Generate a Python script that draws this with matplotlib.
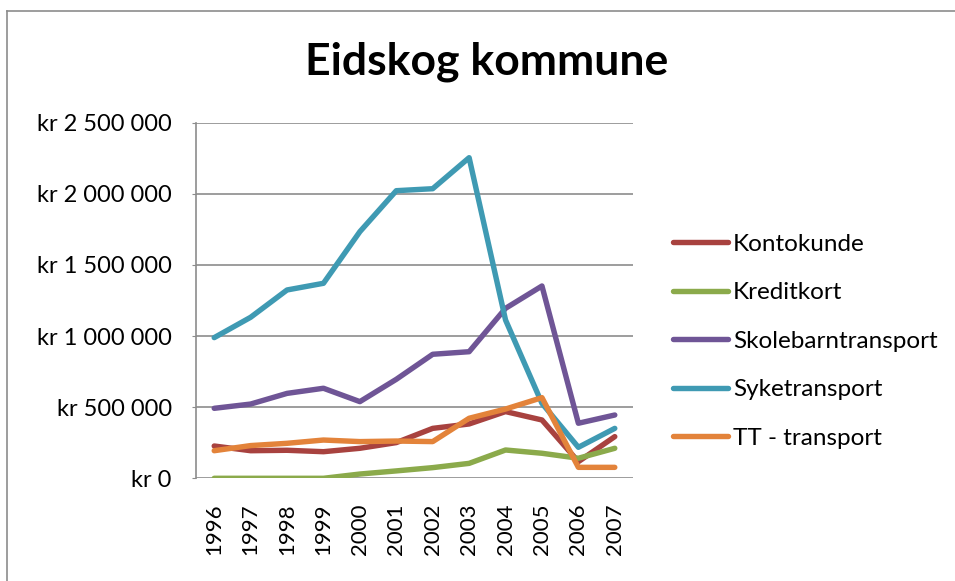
import matplotlib
matplotlib.use("Agg")
import matplotlib.pyplot as plt
from matplotlib.lines import Line2D
from matplotlib.ticker import FuncFormatter

years = ["1996", "1997", "1998", "1999", "2000", "2001", "2002", "2003", "2004", "2005", "2006", "2007"]
kontokunde = [227000, 194000, 197000, 187000, 211000, 251000, 351000, 382000, 469000, 410000, 117000, 293000]
kreditkort = [0, 0, 0, 0, 30000, 52000, 75000, 105000, 199000, 176000, 141000, 211000]
skolebarn = [492000, 522000, 597000, 633000, 539000, 696000, 872000, 890000, 1195000, 1352000, 387000, 445000]
syketransport = [989000, 1132000, 1324000, 1371000, 1734000, 2022000, 2036000, 2254000, 1113000, 527000, 218000, 351000]
tt_transport = [194000, 230000, 246000, 269000, 258000, 262000, 258000, 422000, 487000, 567000, 77000, 77000]

series = [
    ("Kontokunde", kontokunde, "#A8423F"),
    ("Kreditkort", kreditkort, "#8BAA4B"),
    ("Skolebarntransport", skolebarn, "#6F5596"),
    ("Syketransport", syketransport, "#3F9AB3"),
    ("TT - transport", tt_transport, "#E3833A"),
]

plt.rcParams['font.family'] = ['Lato', 'DejaVu Sans']

fig = plt.figure(figsize=(9.55, 5.81), dpi=100)
W, H = 955, 581
ax = fig.add_axes([196 / W, 1 - 478.3 / H, (633 - 196) / W, (478.3 - 122.7) / H])

x = list(range(len(years)))
for name, vals, col in series:
    ax.plot(x, vals, color=col, lw=3.9, label=name, solid_capstyle='round', solid_joinstyle='round')

ax.set_xlim(-0.5, len(years) - 0.5)
ax.set_ylim(0, 2500000)
ax.set_yticks([0, 500000, 1000000, 1500000, 2000000, 2500000])

def fmt(v, pos):
    s = f"{int(v):,}".replace(",", " ")
    return "kr " + s
ax.yaxis.set_major_formatter(FuncFormatter(fmt))
ax.set_xticks(x)
ax.set_xticklabels(years, rotation=90)

ax.grid(axis='y', color='#8C8C8C', lw=1.2)
ax.set_axisbelow(True)
for s in ['top', 'right', 'bottom']:
    ax.spines[s].set_visible(False)
ax.spines['left'].set_color('#8C8C8C')
ax.spines['left'].set_linewidth(1.2)
ax.tick_params(axis='y', length=3, color='#8C8C8C', labelsize=17, pad=14.5)
ax.tick_params(axis='x', length=0, labelsize=16, pad=18)

fig.text(487 / W, 1 - 75 / H, "Eidskog kommune", ha='center', va='baseline',
         fontsize=32, fontweight='bold')

fig.legend(loc='upper left', bbox_to_anchor=(663.5 / W, 1 - 224 / H), frameon=False,
           borderaxespad=0, fontsize=17.5, handlelength=2.26, handletextpad=0.2,
           labelspacing=1.13)

fig.add_artist(Line2D([7 / W, 7 / W], [0, 1 - 11 / H], color='#8C8C8C', lw=1.2))
fig.add_artist(Line2D([7 / W, 1], [1 - 11 / H, 1 - 11 / H], color='#8C8C8C', lw=1.2))

fig.savefig("out.png", dpi=100, facecolor='white')
